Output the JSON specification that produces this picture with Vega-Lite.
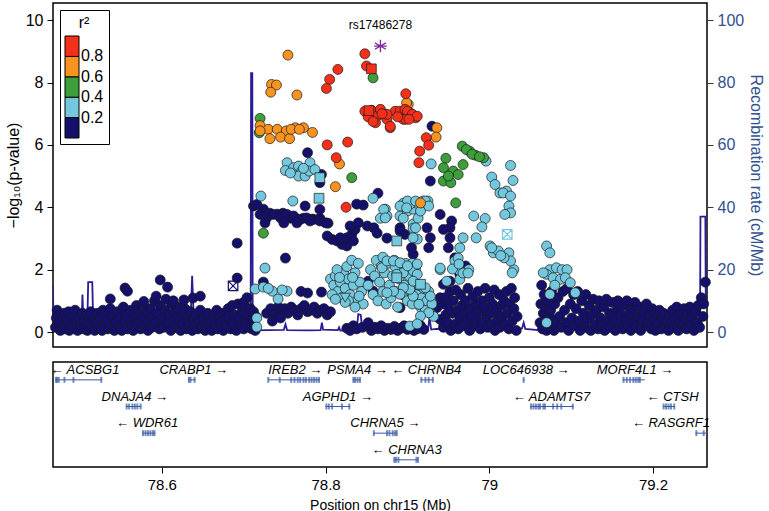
{
"$schema":"https://vega.github.io/schema/vega-lite/v6.json",
"padding":{"left":4,"top":2,"right":0,"bottom":0},
"spacing":13,
"config":{"view":{"stroke":"black","strokeWidth":1.5},"font":"Liberation Sans","axis":{"grid":false,"domain":false,"tickColor":"black","labelColor":"black","titleFontWeight":"normal"}},
"datasets":{
"recomb":[{"pos":78.467,"rate":15},{"pos":78.4675,"rate":3},{"pos":78.475,"rate":3.5},{"pos":78.485,"rate":4},{"pos":78.495,"rate":3},{"pos":78.502,"rate":3.5},{"pos":78.503,"rate":12},{"pos":78.504,"rate":4},{"pos":78.509,"rate":4},{"pos":78.510,"rate":16},{"pos":78.515,"rate":16},{"pos":78.516,"rate":4},{"pos":78.530,"rate":3},{"pos":78.545,"rate":2.5},{"pos":78.56,"rate":3},{"pos":78.575,"rate":3.5},{"pos":78.59,"rate":3},{"pos":78.605,"rate":4},{"pos":78.62,"rate":3.5},{"pos":78.635,"rate":3},{"pos":78.637,"rate":18},{"pos":78.639,"rate":4},{"pos":78.65,"rate":3},{"pos":78.665,"rate":2.5},{"pos":78.68,"rate":3},{"pos":78.695,"rate":2.5},{"pos":78.7085,"rate":2},{"pos":78.709,"rate":83},{"pos":78.7105,"rate":83},{"pos":78.711,"rate":0.5},{"pos":78.73,"rate":0.6},{"pos":78.749,"rate":0.7},{"pos":78.751,"rate":2.5},{"pos":78.753,"rate":0.6},{"pos":78.78,"rate":0.5},{"pos":78.794,"rate":0.6},{"pos":78.7955,"rate":3},{"pos":78.797,"rate":0.8},{"pos":78.815,"rate":0.6},{"pos":78.8165,"rate":1.5},{"pos":78.818,"rate":0.5},{"pos":78.838,"rate":0.6},{"pos":78.84,"rate":5.7},{"pos":78.843,"rate":5.5},{"pos":78.845,"rate":0.6},{"pos":78.87,"rate":0.5},{"pos":78.9,"rate":0.4},{"pos":78.925,"rate":0.5},{"pos":78.927,"rate":4.6},{"pos":78.929,"rate":0.8},{"pos":78.935,"rate":1.0},{"pos":78.96,"rate":0.8},{"pos":78.99,"rate":0.9},{"pos":79.02,"rate":1.0},{"pos":79.04,"rate":1.2},{"pos":79.042,"rate":3},{"pos":79.044,"rate":1.0},{"pos":79.06,"rate":0.6},{"pos":79.1,"rate":0.8},{"pos":79.15,"rate":0.7},{"pos":79.2,"rate":0.8},{"pos":79.25,"rate":1},{"pos":79.2575,"rate":2},{"pos":79.258,"rate":37},{"pos":79.264,"rate":37},{"pos":79.2645,"rate":10},{"pos":79.266,"rate":10}],
"snps":[
{"pos":78.848,"logp":8.92,"r2":0.9},{"pos":78.850,"logp":8.53,"r2":0.9},{"pos":78.815,"logp":8.42,"r2":0.9},{"pos":78.805,"logp":8.10,"r2":0.9},{"pos":78.801,"logp":7.81,"r2":0.9},{"pos":78.898,"logp":7.64,"r2":0.9},
{"pos":78.848,"logp":7.08,"r2":0.9},{"pos":78.856,"logp":7.11,"r2":0.9},{"pos":78.863,"logp":6.92,"r2":0.9},{"pos":78.867,"logp":7.14,"r2":0.9},{"pos":78.871,"logp":6.98,"r2":0.9},{"pos":78.861,"logp":6.71,"r2":0.9},{"pos":78.875,"logp":6.82,"r2":0.9},{"pos":78.879,"logp":6.55,"r2":0.9},{"pos":78.885,"logp":7.08,"r2":0.9},{"pos":78.891,"logp":7.08,"r2":0.9},{"pos":78.897,"logp":7.14,"r2":0.9},{"pos":78.903,"logp":7.03,"r2":0.9},{"pos":78.910,"logp":6.87,"r2":0.9},{"pos":78.895,"logp":6.82,"r2":0.9},{"pos":78.875,"logp":6.98,"r2":0.9},{"pos":78.879,"logp":6.6,"r2":0.9},{"pos":78.900,"logp":7.08,"r2":0.9},{"pos":78.906,"logp":6.98,"r2":0.9},{"pos":78.912,"logp":6.92,"r2":0.9},{"pos":78.898,"logp":6.82,"r2":0.9},{"pos":78.902,"logp":6.82,"r2":0.9},{"pos":78.852,"logp":6.9,"r2":0.9},{"pos":78.858,"logp":6.75,"r2":0.9},{"pos":78.869,"logp":7.0,"r2":0.9},{"pos":78.888,"logp":6.9,"r2":0.9},
{"pos":78.802,"logp":6.0,"r2":0.9},{"pos":78.827,"logp":6.09,"r2":0.9},{"pos":78.813,"logp":5.59,"r2":0.9},{"pos":78.923,"logp":6.23,"r2":0.9},{"pos":78.926,"logp":5.99,"r2":0.9},{"pos":78.915,"logp":5.80,"r2":0.9},{"pos":78.914,"logp":5.43,"r2":0.9},{"pos":78.825,"logp":4.0,"r2":0.9},
{"pos":78.754,"logp":8.88,"r2":0.7},{"pos":78.734,"logp":7.94,"r2":0.7},{"pos":78.740,"logp":7.92,"r2":0.7},{"pos":78.733,"logp":7.69,"r2":0.7},{"pos":78.765,"logp":7.60,"r2":0.7},{"pos":78.720,"logp":6.62,"r2":0.7},{"pos":78.730,"logp":6.5,"r2":0.7},{"pos":78.741,"logp":6.5,"r2":0.7},{"pos":78.752,"logp":6.45,"r2":0.7},{"pos":78.763,"logp":6.55,"r2":0.7},{"pos":78.773,"logp":6.55,"r2":0.7},{"pos":78.784,"logp":6.4,"r2":0.7},{"pos":78.720,"logp":6.45,"r2":0.7},{"pos":78.732,"logp":6.2,"r2":0.7},{"pos":78.745,"logp":6.25,"r2":0.7},{"pos":78.756,"logp":6.2,"r2":0.7},{"pos":78.758,"logp":6.5,"r2":0.7},{"pos":78.768,"logp":6.5,"r2":0.7},{"pos":78.817,"logp":5.39,"r2":0.7},{"pos":78.812,"logp":4.66,"r2":0.7},{"pos":78.901,"logp":7.3,"r2":0.7},{"pos":78.899,"logp":7.35,"r2":0.7},{"pos":78.936,"logp":6.55,"r2":0.7},{"pos":78.935,"logp":6.25,"r2":0.7},{"pos":78.916,"logp":4.14,"r2":0.7},
{"pos":78.720,"logp":6.85,"r2":0.5},{"pos":78.719,"logp":6.39,"r2":0.5},{"pos":78.858,"logp":8.15,"r2":0.5},{"pos":78.832,"logp":4.95,"r2":0.5},{"pos":78.724,"logp":3.17,"r2":0.5},{"pos":78.959,"logp":4.14,"r2":0.5},{"pos":78.967,"logp":5.96,"r2":0.5},{"pos":78.976,"logp":5.80,"r2":0.5},{"pos":78.983,"logp":5.67,"r2":0.5},{"pos":78.993,"logp":5.59,"r2":0.5},{"pos":78.947,"logp":5.57,"r2":0.5},{"pos":78.944,"logp":5.27,"r2":0.5},{"pos":78.956,"logp":5.16,"r2":0.5},{"pos":78.968,"logp":5.37,"r2":0.5},{"pos":78.962,"logp":5.05,"r2":0.5},{"pos":78.944,"logp":4.84,"r2":0.5},{"pos":78.953,"logp":4.79,"r2":0.5},{"pos":78.972,"logp":5.85,"r2":0.5},{"pos":78.979,"logp":5.7,"r2":0.5},{"pos":78.988,"logp":5.62,"r2":0.5},{"pos":78.950,"logp":5.0,"r2":0.5},
{"pos":78.753,"logp":5.43,"r2":0.3},{"pos":78.751,"logp":5.18,"r2":0.3},{"pos":78.761,"logp":5.27,"r2":0.3},{"pos":78.767,"logp":5.32,"r2":0.3},{"pos":78.771,"logp":5.16,"r2":0.3},{"pos":78.767,"logp":5.0,"r2":0.3},{"pos":78.775,"logp":5.0,"r2":0.3},{"pos":78.781,"logp":5.43,"r2":0.3},{"pos":78.780,"logp":5.16,"r2":0.3},{"pos":78.787,"logp":5.21,"r2":0.3},{"pos":78.757,"logp":5.1,"r2":0.3},{"pos":78.773,"logp":5.25,"r2":0.3},
{"pos":78.721,"logp":4.36,"r2":0.3},{"pos":78.760,"logp":4.2,"r2":0.3},{"pos":78.858,"logp":4.29,"r2":0.3},{"pos":78.873,"logp":3.94,"r2":0.3},{"pos":78.875,"logp":3.72,"r2":0.3},{"pos":78.867,"logp":3.65,"r2":0.3},{"pos":78.891,"logp":3.72,"r2":0.3},{"pos":78.900,"logp":3.88,"r2":0.3},{"pos":78.907,"logp":3.94,"r2":0.3},{"pos":78.912,"logp":4.13,"r2":0.3},{"pos":78.903,"logp":4.1,"r2":0.3},{"pos":78.895,"logp":4.13,"r2":0.3},{"pos":78.907,"logp":3.46,"r2":0.3},{"pos":78.912,"logp":2.98,"r2":0.3},
{"pos":78.929,"logp":5.39,"r2":0.3},{"pos":78.996,"logp":5.48,"r2":0.3},{"pos":79.026,"logp":5.34,"r2":0.3},{"pos":79.003,"logp":4.97,"r2":0.3},{"pos":79.007,"logp":4.73,"r2":0.3},{"pos":79.013,"logp":4.46,"r2":0.3},{"pos":79.021,"logp":4.52,"r2":0.3},{"pos":79.029,"logp":4.86,"r2":0.3},{"pos":79.017,"logp":4.46,"r2":0.3},{"pos":79.026,"logp":4.36,"r2":0.3},{"pos":79.024,"logp":4.04,"r2":0.3},{"pos":79.026,"logp":3.82,"r2":0.3},{"pos":79.019,"logp":3.77,"r2":0.3},
{"pos":78.981,"logp":3.72,"r2":0.3},{"pos":78.995,"logp":3.64,"r2":0.3},{"pos":78.991,"logp":3.37,"r2":0.3},{"pos":78.968,"logp":3.02,"r2":0.3},{"pos":78.984,"logp":3.02,"r2":0.3},
{"pos":79.001,"logp":2.76,"r2":0.3},{"pos":79.005,"logp":2.54,"r2":0.3},{"pos":79.011,"logp":2.6,"r2":0.3},{"pos":79.024,"logp":2.54,"r2":0.3},{"pos":79.030,"logp":2.0,"r2":0.3},{"pos":79.026,"logp":2.28,"r2":0.3},{"pos":79.018,"logp":2.38,"r2":0.3},{"pos":79.003,"logp":2.7,"r2":0.3},{"pos":79.014,"logp":2.45,"r2":0.3},{"pos":79.028,"logp":1.9,"r2":0.3},
{"pos":78.958,"logp":2.28,"r2":0.3},{"pos":78.964,"logp":1.96,"r2":0.3},{"pos":78.975,"logp":2.0,"r2":0.3},{"pos":78.964,"logp":1.69,"r2":0.3},{"pos":78.948,"logp":1.63,"r2":0.3},{"pos":78.940,"logp":2.0,"r2":0.3},{"pos":78.964,"logp":2.7,"r2":0.3},{"pos":78.962,"logp":2.37,"r2":0.3},{"pos":78.955,"logp":2.02,"r2":0.3},{"pos":78.968,"logp":1.89,"r2":0.3},{"pos":78.963,"logp":2.18,"r2":0.3},
{"pos":78.900,"logp":4.2,"r2":0.3},{"pos":78.910,"logp":4.2,"r2":0.3},{"pos":78.919,"logp":4.2,"r2":0.3},{"pos":78.925,"logp":4.2,"r2":0.3},{"pos":78.913,"logp":3.65,"r2":0.3},{"pos":78.907,"logp":3.33,"r2":0.3},{"pos":78.895,"logp":3.65,"r2":0.3},{"pos":78.871,"logp":3.93,"r2":0.3},{"pos":78.873,"logp":3.66,"r2":0.3},{"pos":78.891,"logp":4.04,"r2":0.3},{"pos":78.899,"logp":3.98,"r2":0.3},{"pos":78.916,"logp":3.88,"r2":0.3},{"pos":78.922,"logp":4.2,"r2":0.3},{"pos":78.926,"logp":4.04,"r2":0.3},{"pos":78.910,"logp":3.34,"r2":0.3},{"pos":78.907,"logp":3.02,"r2":0.3},
{"pos":78.714,"logp":1.38,"r2":0.3},{"pos":78.724,"logp":1.44,"r2":0.3},{"pos":78.735,"logp":1.31,"r2":0.3},{"pos":78.742,"logp":1.06,"r2":0.3},{"pos":78.753,"logp":1.31,"r2":0.3},{"pos":78.730,"logp":1.4,"r2":0.3},{"pos":78.747,"logp":1.35,"r2":0.3},{"pos":78.716,"logp":0.45,"r2":0.3},{"pos":78.716,"logp":0.16,"r2":0.3},{"pos":78.726,"logp":2.05,"r2":0.3},
{"pos":78.806,"logp":1.7,"r2":0.3},{"pos":78.810,"logp":1.5,"r2":0.3},{"pos":78.812,"logp":1.8,"r2":0.3},{"pos":78.815,"logp":1.3,"r2":0.3},{"pos":78.818,"logp":1.6,"r2":0.3},{"pos":78.820,"logp":1.1,"r2":0.3},{"pos":78.822,"logp":1.9,"r2":0.3},{"pos":78.824,"logp":1.4,"r2":0.3},{"pos":78.826,"logp":2.1,"r2":0.3},{"pos":78.828,"logp":1.7,"r2":0.3},{"pos":78.830,"logp":1.2,"r2":0.3},{"pos":78.832,"logp":2.3,"r2":0.3},{"pos":78.834,"logp":1.5,"r2":0.3},{"pos":78.836,"logp":1.9,"r2":0.3},{"pos":78.838,"logp":1.0,"r2":0.3},{"pos":78.840,"logp":2.2,"r2":0.3},{"pos":78.842,"logp":1.6,"r2":0.3},{"pos":78.844,"logp":1.3,"r2":0.3},{"pos":78.846,"logp":0.9,"r2":0.3},{"pos":78.808,"logp":1.2,"r2":0.3},{"pos":78.814,"logp":2.0,"r2":0.3},{"pos":78.828,"logp":1.0,"r2":0.3},{"pos":78.836,"logp":0.8,"r2":0.3},{"pos":78.817,"logp":1.75,"r2":0.3},{"pos":78.833,"logp":1.75,"r2":0.3},{"pos":78.841,"logp":1.15,"r2":0.3},{"pos":78.824,"logp":0.95,"r2":0.3},{"pos":78.812,"logp":1.05,"r2":0.3},
{"pos":78.852,"logp":1.5,"r2":0.3},{"pos":78.855,"logp":2.0,"r2":0.3},{"pos":78.858,"logp":1.2,"r2":0.3},{"pos":78.860,"logp":1.8,"r2":0.3},{"pos":78.862,"logp":2.3,"r2":0.3},{"pos":78.864,"logp":1.0,"r2":0.3},{"pos":78.866,"logp":1.6,"r2":0.3},{"pos":78.868,"logp":2.1,"r2":0.3},{"pos":78.870,"logp":1.3,"r2":0.3},{"pos":78.872,"logp":1.9,"r2":0.3},{"pos":78.874,"logp":0.9,"r2":0.3},{"pos":78.876,"logp":2.2,"r2":0.3},{"pos":78.878,"logp":1.5,"r2":0.3},{"pos":78.880,"logp":1.1,"r2":0.3},{"pos":78.882,"logp":1.8,"r2":0.3},{"pos":78.884,"logp":2.3,"r2":0.3},{"pos":78.886,"logp":1.3,"r2":0.3},{"pos":78.888,"logp":0.8,"r2":0.3},{"pos":78.890,"logp":1.7,"r2":0.3},{"pos":78.892,"logp":2.0,"r2":0.3},{"pos":78.894,"logp":1.2,"r2":0.3},{"pos":78.896,"logp":1.5,"r2":0.3},{"pos":78.898,"logp":2.2,"r2":0.3},{"pos":78.900,"logp":1.0,"r2":0.3},{"pos":78.902,"logp":1.8,"r2":0.3},{"pos":78.904,"logp":1.3,"r2":0.3},{"pos":78.906,"logp":0.9,"r2":0.3},{"pos":78.908,"logp":1.6,"r2":0.3},{"pos":78.910,"logp":2.0,"r2":0.3},{"pos":78.912,"logp":1.2,"r2":0.3},{"pos":78.914,"logp":1.5,"r2":0.3},{"pos":78.916,"logp":0.8,"r2":0.3},{"pos":78.918,"logp":1.1,"r2":0.3},{"pos":78.920,"logp":1.4,"r2":0.3},{"pos":78.922,"logp":0.7,"r2":0.3},{"pos":78.924,"logp":1.0,"r2":0.3},{"pos":78.926,"logp":1.3,"r2":0.3},{"pos":78.928,"logp":0.6,"r2":0.3},{"pos":78.930,"logp":0.9,"r2":0.3},{"pos":78.932,"logp":0.5,"r2":0.3},{"pos":78.870,"logp":2.4,"r2":0.3},{"pos":78.885,"logp":2.1,"r2":0.3},{"pos":78.895,"logp":1.9,"r2":0.3},{"pos":78.906,"logp":2.2,"r2":0.3},
{"pos":78.926,"logp":0.62,"r2":0.3},{"pos":78.928,"logp":1.15,"r2":0.3},{"pos":78.914,"logp":0.89,"r2":0.3},{"pos":78.922,"logp":1.42,"r2":0.3},{"pos":78.907,"logp":1.15,"r2":0.3},{"pos":78.903,"logp":1.37,"r2":0.3},{"pos":78.895,"logp":1.42,"r2":0.3},{"pos":78.891,"logp":1.21,"r2":0.3},{"pos":78.883,"logp":1.31,"r2":0.3},{"pos":78.875,"logp":1.26,"r2":0.3},{"pos":78.869,"logp":2.06,"r2":0.3},{"pos":78.875,"logp":2.28,"r2":0.3},{"pos":78.883,"logp":2.28,"r2":0.3},{"pos":78.891,"logp":2.22,"r2":0.3},{"pos":78.887,"logp":1.85,"r2":0.3},{"pos":78.907,"logp":1.96,"r2":0.3},{"pos":78.912,"logp":1.85,"r2":0.3},{"pos":78.907,"logp":1.63,"r2":0.3},{"pos":78.916,"logp":0.51,"r2":0.3},{"pos":78.903,"logp":0.19,"r2":0.3},{"pos":78.912,"logp":0.26,"r2":0.3},{"pos":78.940,"logp":2.05,"r2":0.3},{"pos":78.974,"logp":1.89,"r2":0.3},{"pos":78.912,"logp":2.18,"r2":0.3},{"pos":78.900,"logp":2.12,"r2":0.3},
{"pos":79.070,"logp":2.76,"r2":0.3},{"pos":79.074,"logp":2.54,"r2":0.3},{"pos":79.074,"logp":2.0,"r2":0.3},{"pos":79.082,"logp":2.06,"r2":0.3},{"pos":79.089,"logp":2.0,"r2":0.3},{"pos":79.095,"logp":2.0,"r2":0.3},{"pos":79.070,"logp":1.85,"r2":0.3},{"pos":79.078,"logp":1.74,"r2":0.3},{"pos":79.087,"logp":1.69,"r2":0.3},{"pos":79.093,"logp":1.74,"r2":0.3},{"pos":79.099,"logp":1.58,"r2":0.3},{"pos":79.105,"logp":1.26,"r2":0.3},{"pos":79.074,"logp":1.21,"r2":0.3},{"pos":79.070,"logp":0.30,"r2":0.3},{"pos":79.066,"logp":1.9,"r2":0.3},{"pos":79.080,"logp":1.5,"r2":0.3},
{"pos":78.778,"logp":5.75,"r2":0.1},{"pos":78.793,"logp":4.79,"r2":0.1},{"pos":78.795,"logp":5.05,"r2":0.1},{"pos":78.838,"logp":4.1,"r2":0.1},{"pos":78.846,"logp":4.07,"r2":0.1},{"pos":78.864,"logp":4.45,"r2":0.1},{"pos":78.775,"logp":4.04,"r2":0.1},{"pos":78.751,"logp":2.37,"r2":0.1},{"pos":78.928,"logp":4.84,"r2":0.1},{"pos":78.930,"logp":6.6,"r2":0.1},
{"pos":78.712,"logp":4.04,"r2":0.1},{"pos":78.724,"logp":3.94,"r2":0.1},{"pos":78.732,"logp":3.81,"r2":0.1},{"pos":78.741,"logp":3.78,"r2":0.1},{"pos":78.748,"logp":3.81,"r2":0.1},{"pos":78.757,"logp":3.65,"r2":0.1},{"pos":78.765,"logp":3.62,"r2":0.1},{"pos":78.773,"logp":3.65,"r2":0.1},{"pos":78.784,"logp":3.62,"r2":0.1},{"pos":78.793,"logp":3.65,"r2":0.1},{"pos":78.803,"logp":3.49,"r2":0.1},{"pos":78.716,"logp":4.09,"r2":0.1},{"pos":78.720,"logp":3.77,"r2":0.1},{"pos":78.728,"logp":3.66,"r2":0.1},{"pos":78.736,"logp":3.77,"r2":0.1},{"pos":78.745,"logp":3.66,"r2":0.1},{"pos":78.753,"logp":3.77,"r2":0.1},{"pos":78.761,"logp":3.72,"r2":0.1},{"pos":78.769,"logp":3.61,"r2":0.1},{"pos":78.777,"logp":3.66,"r2":0.1},{"pos":78.785,"logp":3.61,"r2":0.1},{"pos":78.793,"logp":3.56,"r2":0.1},{"pos":78.800,"logp":3.50,"r2":0.1},{"pos":78.726,"logp":3.50,"r2":0.1},{"pos":78.749,"logp":3.50,"r2":0.1},{"pos":78.765,"logp":3.50,"r2":0.1},{"pos":78.781,"logp":3.56,"r2":0.1},{"pos":78.793,"logp":3.93,"r2":0.1},
{"pos":78.802,"logp":3.08,"r2":0.1},{"pos":78.808,"logp":2.97,"r2":0.1},{"pos":78.814,"logp":2.92,"r2":0.1},{"pos":78.820,"logp":2.81,"r2":0.1},{"pos":78.826,"logp":2.76,"r2":0.1},{"pos":78.818,"logp":3.02,"r2":0.1},{"pos":78.826,"logp":3.02,"r2":0.1},{"pos":78.832,"logp":3.13,"r2":0.1},{"pos":78.836,"logp":3.29,"r2":0.1},{"pos":78.840,"logp":3.50,"r2":0.1},{"pos":78.830,"logp":3.40,"r2":0.1},{"pos":78.851,"logp":3.40,"r2":0.1},{"pos":78.859,"logp":3.34,"r2":0.1},{"pos":78.834,"logp":2.92,"r2":0.1},
{"pos":78.940,"logp":3.77,"r2":0.1},{"pos":78.954,"logp":3.56,"r2":0.1},{"pos":78.952,"logp":3.34,"r2":0.1},{"pos":78.944,"logp":3.29,"r2":0.1},{"pos":78.924,"logp":3.34,"r2":0.1},{"pos":78.928,"logp":3.02,"r2":0.1},{"pos":78.926,"logp":2.70,"r2":0.1},{"pos":78.952,"logp":3.02,"r2":0.1},{"pos":78.950,"logp":2.70,"r2":0.1},{"pos":78.958,"logp":2.38,"r2":0.1},{"pos":78.971,"logp":2.12,"r2":0.1},{"pos":78.964,"logp":1.85,"r2":0.1},{"pos":78.952,"logp":1.63,"r2":0.1},{"pos":78.944,"logp":1.53,"r2":0.1},{"pos":78.940,"logp":1.10,"r2":0.1},{"pos":78.936,"logp":0.78,"r2":0.1},{"pos":78.907,"logp":2.49,"r2":0.1},{"pos":78.897,"logp":3.13,"r2":0.1},{"pos":78.905,"logp":2.70,"r2":0.1},{"pos":78.891,"logp":3.34,"r2":0.1},{"pos":78.863,"logp":3.17,"r2":0.1},{"pos":78.875,"logp":3.01,"r2":0.1},{"pos":78.891,"logp":3.24,"r2":0.1},{"pos":78.852,"logp":1.63,"r2":0.1},{"pos":78.858,"logp":1.31,"r2":0.1},{"pos":78.891,"logp":0.78,"r2":0.1},{"pos":78.903,"logp":1.21,"r2":0.1},{"pos":78.795,"logp":1.28,"r2":0.1},{"pos":78.778,"logp":1.25,"r2":0.1},{"pos":78.770,"logp":1.3,"r2":0.1},{"pos":78.724,"logp":1.6,"r2":0.1},
{"pos":78.728,"logp":0.6,"r2":0.1},{"pos":78.733,"logp":0.75,"r2":0.1},{"pos":78.738,"logp":0.55,"r2":0.1},{"pos":78.742,"logp":0.8,"r2":0.1},{"pos":78.746,"logp":0.65,"r2":0.1},{"pos":78.750,"logp":0.75,"r2":0.1},{"pos":78.754,"logp":0.6,"r2":0.1},{"pos":78.758,"logp":0.8,"r2":0.1},{"pos":78.762,"logp":0.7,"r2":0.1},{"pos":78.766,"logp":0.55,"r2":0.1},{"pos":78.770,"logp":0.75,"r2":0.1},{"pos":78.774,"logp":0.85,"r2":0.1},{"pos":78.778,"logp":0.65,"r2":0.1},{"pos":78.782,"logp":0.7,"r2":0.1},{"pos":78.786,"logp":0.8,"r2":0.1},{"pos":78.790,"logp":0.6,"r2":0.1},{"pos":78.794,"logp":0.7,"r2":0.1},{"pos":78.798,"logp":0.75,"r2":0.1},{"pos":78.802,"logp":0.55,"r2":0.1},{"pos":78.806,"logp":0.65,"r2":0.1},{"pos":78.735,"logp":0.35,"r2":0.1},{"pos":78.745,"logp":0.45,"r2":0.1},
{"pos":78.826,"logp":0.12,"r2":0.1},{"pos":78.830,"logp":0.05,"r2":0.1},{"pos":78.834,"logp":0.2,"r2":0.1},{"pos":78.838,"logp":0.1,"r2":0.1},{"pos":78.845,"logp":0.15,"r2":0.1},{"pos":78.852,"logp":0.3,"r2":0.1},{"pos":78.856,"logp":0.05,"r2":0.1},{"pos":78.860,"logp":0.15,"r2":0.1},{"pos":78.864,"logp":0.1,"r2":0.1},{"pos":78.868,"logp":0.2,"r2":0.1},{"pos":78.872,"logp":0.05,"r2":0.1},{"pos":78.876,"logp":0.12,"r2":0.1},{"pos":78.880,"logp":0.08,"r2":0.1},{"pos":78.884,"logp":0.18,"r2":0.1},{"pos":78.888,"logp":0.05,"r2":0.1},{"pos":78.892,"logp":0.12,"r2":0.1},{"pos":78.896,"logp":0.2,"r2":0.1},{"pos":78.900,"logp":0.08,"r2":0.1},{"pos":78.904,"logp":0.15,"r2":0.1},{"pos":78.908,"logp":0.05,"r2":0.1},{"pos":78.912,"logp":0.1,"r2":0.1},{"pos":78.916,"logp":0.2,"r2":0.1},{"pos":78.920,"logp":0.08,"r2":0.1},
{"pos":78.470,"logp":0.15,"r2":0.1},{"pos":78.471,"logp":0.45,"r2":0.1},{"pos":78.472,"logp":0.7,"r2":0.1},{"pos":78.474,"logp":0.3,"r2":0.1},{"pos":78.476,"logp":0.05,"r2":0.1},{"pos":78.477,"logp":0.55,"r2":0.1},{"pos":78.479,"logp":0.2,"r2":0.1},{"pos":78.481,"logp":0.6,"r2":0.1},{"pos":78.482,"logp":0.1,"r2":0.1},{"pos":78.484,"logp":0.35,"r2":0.1},{"pos":78.486,"logp":0.65,"r2":0.1},{"pos":78.487,"logp":0.05,"r2":0.1},{"pos":78.489,"logp":0.25,"r2":0.1},{"pos":78.491,"logp":0.5,"r2":0.1},{"pos":78.492,"logp":0.15,"r2":0.1},{"pos":78.494,"logp":0.7,"r2":0.1},{"pos":78.496,"logp":0.3,"r2":0.1},{"pos":78.497,"logp":0.05,"r2":0.1},{"pos":78.499,"logp":0.45,"r2":0.1},{"pos":78.501,"logp":0.2,"r2":0.1},{"pos":78.503,"logp":0.6,"r2":0.1},{"pos":78.504,"logp":0.1,"r2":0.1},{"pos":78.506,"logp":0.35,"r2":0.1},{"pos":78.508,"logp":0.55,"r2":0.1},{"pos":78.509,"logp":0.05,"r2":0.1},{"pos":78.511,"logp":0.25,"r2":0.1},{"pos":78.513,"logp":0.65,"r2":0.1},{"pos":78.514,"logp":0.15,"r2":0.1},{"pos":78.516,"logp":0.4,"r2":0.1},{"pos":78.518,"logp":0.05,"r2":0.1},{"pos":78.520,"logp":0.3,"r2":0.1},{"pos":78.521,"logp":0.6,"r2":0.1},{"pos":78.523,"logp":0.15,"r2":0.1},{"pos":78.525,"logp":0.45,"r2":0.1},{"pos":78.527,"logp":0.05,"r2":0.1},{"pos":78.528,"logp":0.7,"r2":0.1},{"pos":78.530,"logp":0.25,"r2":0.1},{"pos":78.532,"logp":0.5,"r2":0.1},{"pos":78.534,"logp":0.1,"r2":0.1},{"pos":78.535,"logp":0.35,"r2":0.1},{"pos":78.537,"logp":0.75,"r2":0.1},{"pos":78.539,"logp":0.15,"r2":0.1},{"pos":78.541,"logp":0.5,"r2":0.1},{"pos":78.542,"logp":0.05,"r2":0.1},{"pos":78.544,"logp":0.3,"r2":0.1},{"pos":78.546,"logp":0.65,"r2":0.1},{"pos":78.548,"logp":0.2,"r2":0.1},{"pos":78.549,"logp":0.45,"r2":0.1},{"pos":78.551,"logp":0.05,"r2":0.1},{"pos":78.553,"logp":0.8,"r2":0.1},{"pos":78.555,"logp":0.3,"r2":0.1},{"pos":78.556,"logp":0.55,"r2":0.1},{"pos":78.558,"logp":0.1,"r2":0.1},{"pos":78.560,"logp":0.4,"r2":0.1},{"pos":78.562,"logp":0.7,"r2":0.1},{"pos":78.563,"logp":0.2,"r2":0.1},{"pos":78.565,"logp":0.05,"r2":0.1},{"pos":78.567,"logp":0.5,"r2":0.1},{"pos":78.569,"logp":0.85,"r2":0.1},{"pos":78.570,"logp":0.25,"r2":0.1},{"pos":78.572,"logp":0.6,"r2":0.1},{"pos":78.574,"logp":0.1,"r2":0.1},{"pos":78.576,"logp":0.4,"r2":0.1},{"pos":78.577,"logp":0.9,"r2":0.1},{"pos":78.579,"logp":0.2,"r2":0.1},{"pos":78.581,"logp":0.65,"r2":0.1},{"pos":78.583,"logp":0.05,"r2":0.1},{"pos":78.584,"logp":0.35,"r2":0.1},{"pos":78.586,"logp":0.75,"r2":0.1},{"pos":78.588,"logp":0.15,"r2":0.1},{"pos":78.590,"logp":0.5,"r2":0.1},{"pos":78.591,"logp":1.0,"r2":0.1},{"pos":78.593,"logp":0.3,"r2":0.1},{"pos":78.595,"logp":0.6,"r2":0.1},{"pos":78.597,"logp":0.1,"r2":0.1},{"pos":78.598,"logp":0.85,"r2":0.1},{"pos":78.600,"logp":0.4,"r2":0.1},{"pos":78.602,"logp":0.15,"r2":0.1},{"pos":78.604,"logp":0.7,"r2":0.1},{"pos":78.605,"logp":1.05,"r2":0.1},{"pos":78.607,"logp":0.3,"r2":0.1},{"pos":78.609,"logp":0.55,"r2":0.1},{"pos":78.611,"logp":0.05,"r2":0.1},{"pos":78.612,"logp":0.9,"r2":0.1},{"pos":78.614,"logp":0.35,"r2":0.1},{"pos":78.616,"logp":0.65,"r2":0.1},{"pos":78.618,"logp":0.15,"r2":0.1},{"pos":78.619,"logp":0.8,"r2":0.1},{"pos":78.621,"logp":0.45,"r2":0.1},{"pos":78.623,"logp":0.05,"r2":0.1},{"pos":78.625,"logp":0.6,"r2":0.1},{"pos":78.626,"logp":0.25,"r2":0.1},{"pos":78.628,"logp":0.75,"r2":0.1},{"pos":78.630,"logp":0.1,"r2":0.1},{"pos":78.632,"logp":0.5,"r2":0.1},{"pos":78.633,"logp":0.3,"r2":0.1},{"pos":78.635,"logp":0.65,"r2":0.1},{"pos":78.637,"logp":0.05,"r2":0.1},{"pos":78.639,"logp":0.4,"r2":0.1},{"pos":78.640,"logp":0.2,"r2":0.1},{"pos":78.642,"logp":0.55,"r2":0.1},{"pos":78.644,"logp":0.1,"r2":0.1},{"pos":78.646,"logp":0.35,"r2":0.1},{"pos":78.647,"logp":0.7,"r2":0.1},{"pos":78.649,"logp":0.15,"r2":0.1},{"pos":78.651,"logp":0.45,"r2":0.1},{"pos":78.653,"logp":0.05,"r2":0.1},{"pos":78.654,"logp":0.3,"r2":0.1},{"pos":78.656,"logp":0.6,"r2":0.1},{"pos":78.658,"logp":0.2,"r2":0.1},{"pos":78.660,"logp":0.4,"r2":0.1},{"pos":78.661,"logp":0.05,"r2":0.1},{"pos":78.663,"logp":0.55,"r2":0.1},{"pos":78.665,"logp":0.25,"r2":0.1},{"pos":78.667,"logp":0.7,"r2":0.1},{"pos":78.668,"logp":0.1,"r2":0.1},{"pos":78.670,"logp":0.45,"r2":0.1},{"pos":78.672,"logp":0.3,"r2":0.1},{"pos":78.674,"logp":0.6,"r2":0.1},{"pos":78.675,"logp":0.05,"r2":0.1},{"pos":78.677,"logp":0.4,"r2":0.1},{"pos":78.679,"logp":0.2,"r2":0.1},{"pos":78.681,"logp":0.75,"r2":0.1},{"pos":78.682,"logp":0.5,"r2":0.1},{"pos":78.684,"logp":0.1,"r2":0.1},{"pos":78.686,"logp":0.85,"r2":0.1},{"pos":78.688,"logp":0.3,"r2":0.1},{"pos":78.689,"logp":0.55,"r2":0.1},{"pos":78.691,"logp":0.05,"r2":0.1},{"pos":78.693,"logp":0.9,"r2":0.1},{"pos":78.695,"logp":0.4,"r2":0.1},{"pos":78.696,"logp":0.2,"r2":0.1},{"pos":78.698,"logp":0.65,"r2":0.1},{"pos":78.700,"logp":0.1,"r2":0.1},{"pos":78.702,"logp":0.8,"r2":0.1},{"pos":78.703,"logp":0.35,"r2":0.1},{"pos":78.705,"logp":0.55,"r2":0.1},{"pos":78.707,"logp":0.15,"r2":0.1},{"pos":78.708,"logp":0.75,"r2":0.1},{"pos":78.710,"logp":0.1,"r2":0.1},{"pos":78.711,"logp":0.4,"r2":0.1},{"pos":78.712,"logp":0.65,"r2":0.1},{"pos":78.713,"logp":0.2,"r2":0.1},{"pos":78.714,"logp":0.05,"r2":0.1},{"pos":78.715,"logp":0.5,"r2":0.1},
{"pos":78.555,"logp":1.41,"r2":0.1},{"pos":78.558,"logp":1.31,"r2":0.1},{"pos":78.598,"logp":1.67,"r2":0.1},{"pos":78.607,"logp":1.44,"r2":0.1},{"pos":78.692,"logp":2.85,"r2":0.1},{"pos":78.692,"logp":1.73,"r2":0.1},{"pos":78.627,"logp":1.03,"r2":0.1},{"pos":78.638,"logp":1.09,"r2":0.1},{"pos":78.647,"logp":1.15,"r2":0.1},{"pos":78.537,"logp":1.06,"r2":0.1},{"pos":78.593,"logp":1.15,"r2":0.1},{"pos":78.578,"logp":0.98,"r2":0.1},{"pos":78.614,"logp":1.0,"r2":0.1},{"pos":78.700,"logp":0.95,"r2":0.1},{"pos":78.704,"logp":1.1,"r2":0.1},
{"pos":78.940,"logp":0.4,"r2":0.1},{"pos":78.942,"logp":0.9,"r2":0.1},{"pos":78.944,"logp":0.15,"r2":0.1},{"pos":78.946,"logp":1.1,"r2":0.1},{"pos":78.947,"logp":0.55,"r2":0.1},{"pos":78.949,"logp":0.3,"r2":0.1},{"pos":78.950,"logp":0.8,"r2":0.1},{"pos":78.952,"logp":1.3,"r2":0.1},{"pos":78.953,"logp":0.05,"r2":0.1},{"pos":78.955,"logp":0.6,"r2":0.1},{"pos":78.956,"logp":1.0,"r2":0.1},{"pos":78.958,"logp":0.25,"r2":0.1},{"pos":78.959,"logp":1.35,"r2":0.1},{"pos":78.961,"logp":0.7,"r2":0.1},{"pos":78.962,"logp":0.1,"r2":0.1},{"pos":78.964,"logp":0.45,"r2":0.1},{"pos":78.965,"logp":1.2,"r2":0.1},{"pos":78.967,"logp":0.85,"r2":0.1},{"pos":78.968,"logp":0.2,"r2":0.1},{"pos":78.970,"logp":0.6,"r2":0.1},{"pos":78.971,"logp":1.0,"r2":0.1},{"pos":78.973,"logp":0.35,"r2":0.1},{"pos":78.974,"logp":1.4,"r2":0.1},{"pos":78.976,"logp":0.05,"r2":0.1},{"pos":78.977,"logp":0.75,"r2":0.1},{"pos":78.979,"logp":0.5,"r2":0.1},{"pos":78.980,"logp":1.15,"r2":0.1},{"pos":78.982,"logp":0.2,"r2":0.1},{"pos":78.983,"logp":0.9,"r2":0.1},{"pos":78.985,"logp":0.4,"r2":0.1},{"pos":78.986,"logp":1.3,"r2":0.1},{"pos":78.988,"logp":0.65,"r2":0.1},{"pos":78.989,"logp":0.1,"r2":0.1},{"pos":78.991,"logp":1.0,"r2":0.1},{"pos":78.992,"logp":0.3,"r2":0.1},{"pos":78.994,"logp":0.8,"r2":0.1},{"pos":78.995,"logp":1.4,"r2":0.1},{"pos":78.997,"logp":0.5,"r2":0.1},{"pos":78.998,"logp":0.15,"r2":0.1},{"pos":79.000,"logp":1.1,"r2":0.1},{"pos":79.001,"logp":0.6,"r2":0.1},{"pos":79.003,"logp":0.25,"r2":0.1},{"pos":79.004,"logp":0.9,"r2":0.1},{"pos":79.006,"logp":1.35,"r2":0.1},{"pos":79.007,"logp":0.05,"r2":0.1},{"pos":79.009,"logp":0.7,"r2":0.1},{"pos":79.010,"logp":0.4,"r2":0.1},{"pos":79.012,"logp":1.2,"r2":0.1},{"pos":79.013,"logp":0.15,"r2":0.1},{"pos":79.015,"logp":0.85,"r2":0.1},{"pos":79.016,"logp":0.5,"r2":0.1},{"pos":79.018,"logp":1.0,"r2":0.1},{"pos":79.019,"logp":0.25,"r2":0.1},{"pos":79.021,"logp":1.3,"r2":0.1},{"pos":79.022,"logp":0.6,"r2":0.1},{"pos":79.024,"logp":0.1,"r2":0.1},{"pos":79.025,"logp":0.9,"r2":0.1},{"pos":79.027,"logp":1.4,"r2":0.1},{"pos":79.028,"logp":0.35,"r2":0.1},{"pos":79.030,"logp":0.75,"r2":0.1},{"pos":79.031,"logp":1.1,"r2":0.1},{"pos":79.033,"logp":0.05,"r2":0.1},{"pos":79.034,"logp":0.5,"r2":0.1},
{"pos":79.062,"logp":0.3,"r2":0.1},{"pos":79.063,"logp":0.9,"r2":0.1},{"pos":79.064,"logp":1.5,"r2":0.1},{"pos":79.065,"logp":0.1,"r2":0.1},{"pos":79.066,"logp":0.6,"r2":0.1},{"pos":79.067,"logp":1.2,"r2":0.1},{"pos":79.068,"logp":0.35,"r2":0.1},{"pos":79.069,"logp":0.8,"r2":0.1},{"pos":79.070,"logp":0.05,"r2":0.1},{"pos":79.071,"logp":1.0,"r2":0.1},{"pos":79.072,"logp":0.5,"r2":0.1},{"pos":79.074,"logp":0.2,"r2":0.1},{"pos":79.075,"logp":0.7,"r2":0.1},{"pos":79.076,"logp":1.3,"r2":0.1},{"pos":79.078,"logp":0.4,"r2":0.1},{"pos":79.079,"logp":0.05,"r2":0.1},{"pos":79.080,"logp":0.9,"r2":0.1},{"pos":79.082,"logp":0.25,"r2":0.1},
{"pos":79.084,"logp":1.1,"r2":0.1},{"pos":79.086,"logp":0.5,"r2":0.1},{"pos":79.088,"logp":0.15,"r2":0.1},{"pos":79.090,"logp":1.3,"r2":0.1},{"pos":79.092,"logp":0.7,"r2":0.1},{"pos":79.094,"logp":0.3,"r2":0.1},{"pos":79.095,"logp":1.4,"r2":0.1},{"pos":79.097,"logp":0.05,"r2":0.1},{"pos":79.099,"logp":0.9,"r2":0.1},{"pos":79.101,"logp":0.45,"r2":0.1},{"pos":79.103,"logp":1.2,"r2":0.1},{"pos":79.104,"logp":0.2,"r2":0.1},{"pos":79.106,"logp":0.75,"r2":0.1},{"pos":79.108,"logp":1.3,"r2":0.1},{"pos":79.110,"logp":0.35,"r2":0.1},{"pos":79.111,"logp":0.05,"r2":0.1},{"pos":79.113,"logp":1.0,"r2":0.1},{"pos":79.115,"logp":0.6,"r2":0.1},{"pos":79.117,"logp":0.15,"r2":0.1},{"pos":79.118,"logp":1.2,"r2":0.1},{"pos":79.120,"logp":0.4,"r2":0.1},{"pos":79.122,"logp":0.85,"r2":0.1},{"pos":79.124,"logp":0.05,"r2":0.1},{"pos":79.125,"logp":0.55,"r2":0.1},{"pos":79.127,"logp":1.05,"r2":0.1},{"pos":79.129,"logp":0.25,"r2":0.1},{"pos":79.131,"logp":0.7,"r2":0.1},{"pos":79.133,"logp":0.1,"r2":0.1},{"pos":79.134,"logp":1.0,"r2":0.1},{"pos":79.136,"logp":0.45,"r2":0.1},{"pos":79.138,"logp":0.2,"r2":0.1},{"pos":79.140,"logp":0.8,"r2":0.1},{"pos":79.141,"logp":0.05,"r2":0.1},{"pos":79.143,"logp":1.05,"r2":0.1},{"pos":79.145,"logp":0.35,"r2":0.1},{"pos":79.147,"logp":0.6,"r2":0.1},{"pos":79.148,"logp":0.15,"r2":0.1},{"pos":79.150,"logp":0.95,"r2":0.1},{"pos":79.152,"logp":0.4,"r2":0.1},{"pos":79.154,"logp":0.05,"r2":0.1},{"pos":79.156,"logp":0.7,"r2":0.1},{"pos":79.157,"logp":1.0,"r2":0.1},{"pos":79.159,"logp":0.25,"r2":0.1},{"pos":79.161,"logp":0.55,"r2":0.1},{"pos":79.163,"logp":0.1,"r2":0.1},{"pos":79.164,"logp":0.85,"r2":0.1},{"pos":79.166,"logp":0.4,"r2":0.1},{"pos":79.168,"logp":1.0,"r2":0.1},{"pos":79.170,"logp":0.2,"r2":0.1},{"pos":79.171,"logp":0.6,"r2":0.1},{"pos":79.173,"logp":0.05,"r2":0.1},{"pos":79.175,"logp":0.75,"r2":0.1},{"pos":79.177,"logp":0.35,"r2":0.1},{"pos":79.178,"logp":0.95,"r2":0.1},{"pos":79.180,"logp":0.15,"r2":0.1},{"pos":79.182,"logp":0.5,"r2":0.1},{"pos":79.184,"logp":0.8,"r2":0.1},{"pos":79.185,"logp":0.05,"r2":0.1},{"pos":79.187,"logp":0.4,"r2":0.1},{"pos":79.189,"logp":0.65,"r2":0.1},{"pos":79.191,"logp":0.2,"r2":0.1},{"pos":79.192,"logp":0.9,"r2":0.1},{"pos":79.194,"logp":0.3,"r2":0.1},{"pos":79.196,"logp":0.55,"r2":0.1},{"pos":79.198,"logp":0.1,"r2":0.1},{"pos":79.199,"logp":0.75,"r2":0.1},{"pos":79.201,"logp":0.4,"r2":0.1},{"pos":79.203,"logp":0.05,"r2":0.1},{"pos":79.205,"logp":0.6,"r2":0.1},{"pos":79.206,"logp":0.25,"r2":0.1},{"pos":79.208,"logp":0.7,"r2":0.1},{"pos":79.210,"logp":0.1,"r2":0.1},{"pos":79.212,"logp":0.45,"r2":0.1},{"pos":79.213,"logp":0.6,"r2":0.1},{"pos":79.215,"logp":0.2,"r2":0.1},{"pos":79.217,"logp":0.35,"r2":0.1},{"pos":79.219,"logp":0.05,"r2":0.1},{"pos":79.220,"logp":0.55,"r2":0.1},{"pos":79.222,"logp":0.3,"r2":0.1},{"pos":79.224,"logp":0.7,"r2":0.1},{"pos":79.226,"logp":0.15,"r2":0.1},{"pos":79.227,"logp":0.45,"r2":0.1},{"pos":79.229,"logp":0.8,"r2":0.1},{"pos":79.231,"logp":0.05,"r2":0.1},{"pos":79.233,"logp":0.35,"r2":0.1},{"pos":79.234,"logp":0.6,"r2":0.1},{"pos":79.236,"logp":0.2,"r2":0.1},{"pos":79.238,"logp":0.75,"r2":0.1},{"pos":79.240,"logp":0.4,"r2":0.1},{"pos":79.241,"logp":0.1,"r2":0.1},{"pos":79.243,"logp":0.55,"r2":0.1},{"pos":79.245,"logp":0.8,"r2":0.1},{"pos":79.247,"logp":0.25,"r2":0.1},{"pos":79.248,"logp":0.5,"r2":0.1},{"pos":79.250,"logp":0.05,"r2":0.1},{"pos":79.252,"logp":0.65,"r2":0.1},{"pos":79.254,"logp":0.3,"r2":0.1},{"pos":79.255,"logp":0.85,"r2":0.1},{"pos":79.257,"logp":0.15,"r2":0.1},{"pos":79.259,"logp":1.1,"r2":0.1},{"pos":79.261,"logp":0.5,"r2":0.1},{"pos":79.262,"logp":0.9,"r2":0.1},{"pos":79.264,"logp":1.6,"r2":0.1}
],
"squares":[{"pos":78.856,"logp":8.44,"r2":0.9},{"pos":78.853,"logp":7.1,"r2":0.9},{"pos":78.793,"logp":4.95,"r2":0.3},{"pos":78.792,"logp":4.29,"r2":0.3},{"pos":78.887,"logp":2.92,"r2":0.3},{"pos":78.887,"logp":1.74,"r2":0.3},{"pos":78.916,"logp":1.53,"r2":0.3}],
"triangles":[{"pos":78.824,"logp":1.1,"r2":0.3}],
"crossbox":[{"pos":78.687,"logp":1.48,"r2":0.1},{"pos":79.022,"logp":3.13,"r2":0.3}],
"lead":[{"pos":78.867,"logp":9.17,"snp":"rs17486278"}],
"genes":[
{"gene":"← ACSBG1","start":78.470,"end":78.527,"mid":78.506,"row":1},
{"gene":"CRABP1 →","start":78.632,"end":78.641,"mid":78.639,"row":1},
{"gene":"IREB2 →","start":78.730,"end":78.793,"mid":78.763,"row":1},
{"gene":"PSMA4 →","start":78.833,"end":78.843,"mid":78.839,"row":1},
{"gene":"← CHRNB4","start":78.916,"end":78.932,"mid":78.923,"row":1},
{"gene":"LOC646938 →","start":79.041,"end":79.043,"mid":79.045,"row":1},
{"gene":"MORF4L1 →","start":79.163,"end":79.190,"mid":79.178,"row":1},
{"gene":"DNAJA4 →","start":78.556,"end":78.575,"mid":78.567,"row":2},
{"gene":"AGPHD1 →","start":78.800,"end":78.830,"mid":78.815,"row":2},
{"gene":"← ADAMTS7","start":79.050,"end":79.103,"mid":79.076,"row":2},
{"gene":"← CTSH","start":79.212,"end":79.227,"mid":79.224,"row":2},
{"gene":"← WDR61","start":78.576,"end":78.592,"mid":78.582,"row":3},
{"gene":"CHRNA5 →","start":78.858,"end":78.887,"mid":78.873,"row":3},
{"gene":"← RASGRF1","start":79.252,"end":79.266,"mid":79.222,"row":3},
{"gene":"← CHRNA3","start":78.883,"end":78.913,"mid":78.899,"row":4}],
"exons":[
{"pos":78.4705,"row":1},{"pos":78.472,"row":1},{"pos":78.474,"row":1},{"pos":78.481,"row":1},{"pos":78.492,"row":1},{"pos":78.526,"row":1},
{"pos":78.633,"row":1},{"pos":78.635,"row":1},{"pos":78.640,"row":1},
{"pos":78.730,"row":1},{"pos":78.744,"row":1},{"pos":78.758,"row":1},{"pos":78.762,"row":1},{"pos":78.766,"row":1},{"pos":78.769,"row":1},{"pos":78.773,"row":1},{"pos":78.776,"row":1},{"pos":78.780,"row":1},{"pos":78.783,"row":1},{"pos":78.786,"row":1},{"pos":78.789,"row":1},{"pos":78.792,"row":1},
{"pos":78.834,"row":1},{"pos":78.836,"row":1},{"pos":78.839,"row":1},{"pos":78.842,"row":1},
{"pos":78.917,"row":1},{"pos":78.922,"row":1},{"pos":78.926,"row":1},{"pos":78.931,"row":1},
{"pos":79.042,"row":1},
{"pos":79.164,"row":1},{"pos":79.168,"row":1},{"pos":79.172,"row":1},{"pos":79.176,"row":1},{"pos":79.179,"row":1},{"pos":79.182,"row":1},{"pos":79.184,"row":1},
{"pos":78.557,"row":2},{"pos":78.560,"row":2},{"pos":78.564,"row":2},{"pos":78.567,"row":2},{"pos":78.570,"row":2},{"pos":78.574,"row":2},
{"pos":78.801,"row":2},{"pos":78.804,"row":2},{"pos":78.808,"row":2},{"pos":78.820,"row":2},{"pos":78.829,"row":2},
{"pos":79.051,"row":2},{"pos":79.054,"row":2},{"pos":79.057,"row":2},{"pos":79.060,"row":2},{"pos":79.062,"row":2},{"pos":79.066,"row":2},{"pos":79.068,"row":2},{"pos":79.078,"row":2},{"pos":79.083,"row":2},{"pos":79.088,"row":2},{"pos":79.102,"row":2},
{"pos":79.213,"row":2},{"pos":79.216,"row":2},{"pos":79.219,"row":2},{"pos":79.222,"row":2},{"pos":79.226,"row":2},
{"pos":78.577,"row":3},{"pos":78.580,"row":3},{"pos":78.583,"row":3},{"pos":78.586,"row":3},{"pos":78.589,"row":3},{"pos":78.591,"row":3},
{"pos":78.859,"row":3},{"pos":78.875,"row":3},{"pos":78.878,"row":3},{"pos":78.882,"row":3},{"pos":78.885,"row":3},{"pos":78.887,"row":3},
{"pos":79.253,"row":3},{"pos":79.262,"row":3},
{"pos":78.884,"row":4},{"pos":78.886,"row":4},{"pos":78.889,"row":4},{"pos":78.911,"row":4},{"pos":78.913,"row":4}]
},
"resolve":{"scale":{"x":"independent","y":"independent","color":"independent"}},
"vconcat":[
{"width":654,"height":344,
 "layer":[
  {"data":{"name":"recomb"},
   "mark":{"type":"line","color":"#2a1c94","strokeWidth":1.8,"clip":true},
   "encoding":{
    "x":{"field":"pos","type":"quantitative","scale":{"domain":[78.467,79.266],"nice":false,"zero":false},"axis":null},
    "y":{"field":"rate","type":"quantitative","scale":{"domain":[-4.8,105.5],"nice":false,"zero":false},
      "axis":{"orient":"right","values":[0,20,40,60,80,100],"title":"Recombination rate (cM/Mb)","labelColor":"#33508f","titleColor":"#33508f","labelFontSize":16,"titleFontSize":16,"tickSize":6,"tickColor":"#333","labelPadding":4,"titlePadding":4}}}},
  {"layer":[
    {"data":{"name":"snps"},
     "mark":{"type":"circle","opacity":1,"stroke":"#1a1a1a","strokeWidth":0.7},
     "encoding":{
      "x":{"field":"pos","type":"quantitative","scale":{"domain":[78.467,79.266],"nice":false,"zero":false},"axis":null},
      "y":{"field":"logp","type":"quantitative","scale":{"domain":[-0.48,10.55],"nice":false,"zero":false},
        "axis":{"orient":"left","values":[0,2,4,6,8,10],"title":"−log₁₀(p-value)","labelFontSize":16,"titleFontSize":16,"tickSize":6,"labelPadding":4,"titlePadding":4}},
      "color":{"field":"r2","type":"quantitative",
        "scale":{"type":"threshold","domain":[0.2,0.4,0.6,0.8],"range":["#14106b","#74c8de","#3c9f3c","#f7931e","#f5301a"]},
        "legend":{"type":"gradient","direction":"vertical","orient":"top-left","offset":7,"title":"r²","titleFontSize":16,"titleFontWeight":"normal","titleAnchor":"middle","labelFontSize":16,"gradientLength":102,"gradientThickness":14,"strokeColor":"black","fillColor":"white","padding":5,"gradientStrokeColor":"black","gradientStrokeWidth":1}},
      "size":{"value":100},
      "order":{"field":"r2","type":"quantitative"}}},
    {"data":{"name":"squares"},
     "mark":{"type":"square","opacity":1,"stroke":"#1a1a1a","strokeWidth":0.7,"size":95},
     "encoding":{"x":{"field":"pos","type":"quantitative"},"y":{"field":"logp","type":"quantitative"},
       "color":{"field":"r2","type":"quantitative","scale":{"type":"threshold","domain":[0.2,0.4,0.6,0.8],"range":["#14106b","#74c8de","#3c9f3c","#f7931e","#f5301a"]},"legend":null}}},
    {"data":{"name":"triangles"},
     "mark":{"type":"point","shape":"triangle-down","filled":true,"opacity":1,"stroke":"#1a1a1a","strokeWidth":0.7,"size":110},
     "encoding":{"x":{"field":"pos","type":"quantitative"},"y":{"field":"logp","type":"quantitative"},
       "color":{"field":"r2","type":"quantitative","scale":{"type":"threshold","domain":[0.2,0.4,0.6,0.8],"range":["#14106b","#74c8de","#3c9f3c","#f7931e","#f5301a"]},"legend":null}}},
    {"data":{"name":"crossbox"},
     "mark":{"type":"point","shape":"M-1,-1H1V1H-1Z M-1,-1L1,1 M1,-1L-1,1","filled":false,"opacity":1,"strokeWidth":1.2,"size":90},
     "encoding":{"x":{"field":"pos","type":"quantitative"},"y":{"field":"logp","type":"quantitative"},
       "color":{"field":"r2","type":"quantitative","scale":{"type":"threshold","domain":[0.2,0.4,0.6,0.8],"range":["#14106b","#74c8de","#3c9f3c","#f7931e","#f5301a"]},"legend":null}}},
    {"data":{"name":"lead"},
     "mark":{"type":"point","shape":"M0,-1V1 M-0.87,-0.5L0.87,0.5 M-0.87,0.5L0.87,-0.5 M-1,0H1","filled":false,"opacity":1,"color":"#7b2a9c","strokeWidth":1.3,"size":160},
     "encoding":{"x":{"field":"pos","type":"quantitative"},"y":{"field":"logp","type":"quantitative"}}},
    {"data":{"name":"lead"},
     "mark":{"type":"text","fontSize":12,"dy":-21,"color":"black"},
     "encoding":{"x":{"field":"pos","type":"quantitative"},"y":{"field":"logp","type":"quantitative"},"text":{"field":"snp"}}}
  ]}
 ],
 "resolve":{"scale":{"y":"independent"}}
},
{"width":654,"height":105,
 "layer":[
  {"data":{"name":"genes"},
   "mark":{"type":"rule","color":"#3b5ba5","strokeWidth":1,"clip":true},
   "encoding":{
    "x":{"field":"start","type":"quantitative","scale":{"domain":[78.467,79.266],"nice":false,"zero":false},
      "axis":{"values":[78.6,78.8,79,79.2],"title":"Position on chr15 (Mb)","labelFontSize":15,"titleFontSize":14,"tickSize":6,"labelPadding":4,"titlePadding":6,"format":"~g"}},
    "x2":{"field":"end"},
    "y":{"field":"row","type":"quantitative","scale":{"domain":[0.33,4.27],"reverse":true,"nice":false,"zero":false},"axis":null}}},
  {"data":{"name":"exons"},
   "mark":{"type":"tick","orient":"vertical","color":"#3b5ba5","thickness":2,"size":6,"clip":true},
   "encoding":{"x":{"field":"pos","type":"quantitative"},"y":{"field":"row","type":"quantitative"}}},
  {"data":{"name":"genes"},
   "mark":{"type":"text","fontStyle":"italic","fontSize":13,"dy":-10,"color":"black"},
   "encoding":{"x":{"field":"mid","type":"quantitative"},"y":{"field":"row","type":"quantitative"},"text":{"field":"gene"}}}
 ]
}
]
}
